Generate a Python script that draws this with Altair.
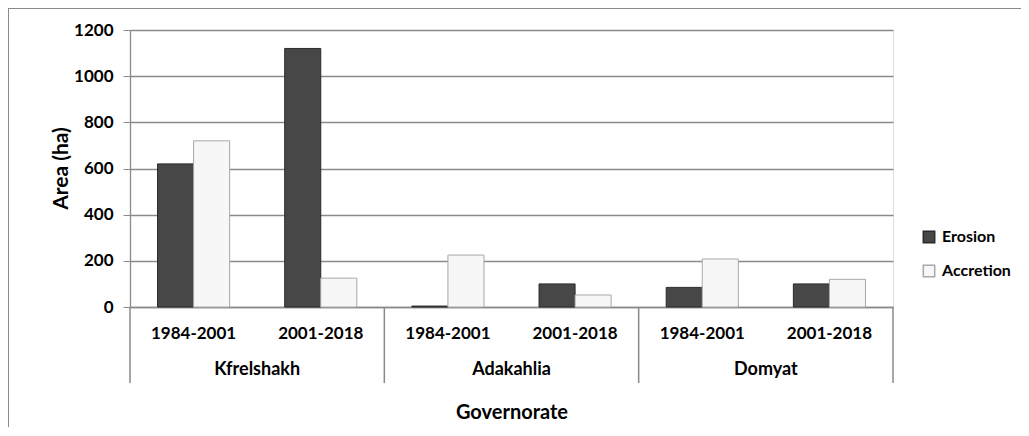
import altair as alt
import pandas as pd

governorates = ["Kfrelshakh", "Adakahlia", "Domyat"]
periods = ["1984-2001", "2001-2018"]
series = ["Erosion", "Accretion"]
erosion = [620, 1120, 4, 100, 85, 100]
accretion = [720, 125, 225, 52, 208, 120]
y_ticks = [0, 200, 400, 600, 800, 1000, 1200]

rows = []
keys = []
i = 0
for g in governorates:
    for p in periods:
        k = f"{g}|{p}"
        keys.append(k)
        rows.append({"key": k, "Series": "Erosion", "value": erosion[i]})
        rows.append({"key": k, "Series": "Accretion", "value": accretion[i]})
        i += 1
df = pd.DataFrame(rows)

W, H = 763, 277
FONT = "Lato"
GRAY = "#8a8a8a"

legend = alt.Legend(title=None, orient="none", legendX=791, legendY=199,
                    labelFont=FONT, labelFontSize=16, labelFontWeight="bold",
                    labelColor="#000", symbolType="square", symbolSize=130,
                    rowPadding=16, labelOffset=5)

bars = alt.Chart(df).mark_bar(strokeWidth=1).encode(
    x=alt.X("key:N", sort=keys,
            scale=alt.Scale(paddingInner=0.433, paddingOuter=0.2165),
            axis=alt.Axis(title="Governorate", labelExpr="split(datum.label, '|')[1]",
                          labelAngle=0, ticks=False, labelPadding=18,
                          labelFont=FONT, labelFontSize=17, labelFontWeight="bold",
                          labelColor="#000", domainColor=GRAY, domainWidth=1.5,
                          titleFont=FONT, titleFontSize=20, titleFontWeight="bold",
                          titleColor="#000", titleY=105, titleBaseline="middle")),
    xOffset=alt.XOffset("Series:N", sort=series),
    y=alt.Y("value:Q", scale=alt.Scale(domain=[0, 1200], nice=False),
            axis=alt.Axis(title="Area (ha)", values=y_ticks, grid=True, format="d",
                          gridColor=GRAY, gridWidth=1.3, tickColor=GRAY, tickSize=7,
                          domainColor=GRAY, domainWidth=1.3, labelPadding=10,
                          labelFont=FONT, labelFontSize=17, labelFontWeight="bold",
                          labelColor="#000",
                          titleFont=FONT, titleFontSize=21, titleFontWeight="bold",
                          titleColor="#000", titleX=-69, titleY=138, titleAngle=-90,
                          titleAlign="center", titleBaseline="middle")),
    fill=alt.Fill("Series:N", sort=series,
                  scale=alt.Scale(domain=series, range=["#474747", "#f7f7f7"]),
                  legend=legend),
    stroke=alt.Stroke("Series:N", sort=series,
                      scale=alt.Scale(domain=series, range=["#2a2a2a", "#a8a8a8"]),
                      legend=legend),
)

div_df = pd.DataFrame({"pos": [0, 1, 2, 3]})
dividers = alt.Chart(div_df).mark_rule(color=GRAY, strokeWidth=1.5).encode(
    x=alt.X("pos:Q", scale=alt.Scale(domain=[0, 3], nice=False, zero=False), axis=None),
    y=alt.value(H),
    y2=alt.value(H + 76),
)

gov_df = pd.DataFrame({"pos": [0.5, 1.5, 2.5], "gov": governorates})
gov_text = alt.Chart(gov_df).mark_text(font=FONT, fontSize=18, fontWeight="bold",
                                       color="#000", baseline="middle").encode(
    x=alt.X("pos:Q", scale=alt.Scale(domain=[0, 3], nice=False, zero=False), axis=None),
    y=alt.value(H + 63),
    text="gov:N",
)

frame = alt.Chart(pd.DataFrame({"a": [0]})).mark_rect(fill=None, stroke=GRAY, strokeWidth=2).encode(
    x=alt.value(-122), x2=alt.value(W + 200),
    y=alt.value(-22), y2=alt.value(H + 200),
)

chart = alt.layer(frame, bars, dividers, gov_text).resolve_scale(
    x="independent"
).properties(
    width=W, height=H,
    autosize=alt.AutoSizeParams(type="none"),
    padding={"left": 122, "top": 22, "right": 128, "bottom": 120},
).configure_view(stroke=None).configure(background="white")

chart.save("out.html", embed_options={"renderer": "svg", "actions": False})
